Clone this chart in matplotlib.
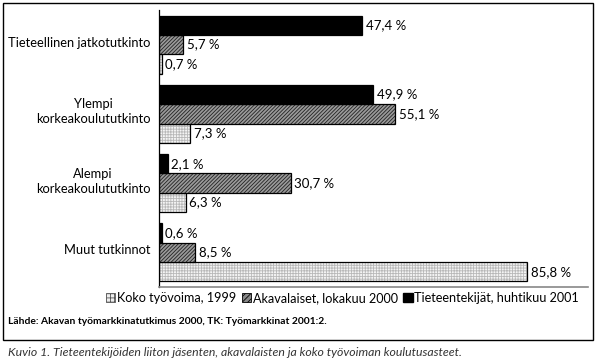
import matplotlib.pyplot as plt
from matplotlib.patches import Patch, Rectangle

# degrees (y order top to bottom) and shares in %
categories = ['Tieteellinen jatkotutkinto', 'Ylempi\nkorkeakoulututkinto',
              'Alempi\nkorkeakoulututkinto', 'Muut tutkinnot']
koko = [0.7, 7.3, 6.3, 85.8]
akava = [5.7, 55.1, 30.7, 8.5]
tiet = [47.4, 49.9, 2.1, 0.6]
series_names = ['Koko työvoima, 1999', 'Akavalaiset, lokakuu 2000',
                'Tieteentekijät, huhtikuu 2001']

plt.rcParams['font.family'] = ['Lato', 'DejaVu Sans']
plt.rcParams['hatch.linewidth'] = 0.6

fig = plt.figure(figsize=(6, 3.61), dpi=100)
ax = fig.add_axes([159/600, 1-287/361, 429/600, 277/361])

h = 0.28
y = range(len(categories))
styles = [
    (koko, h, '#f4f4f4', '#b8b8b8', '++++++'),
    (akava, 0, '#9a9a9a', '#222222', '/////////'),
    (tiet, -h, 'black', 'black', None),
]
for vals, off, fc, hc, hatch in styles:
    pos = [c + off for c in y]
    ax.barh(pos, vals, height=h, color=fc, edgecolor=hc, hatch=hatch, lw=0)
    ax.barh(pos, vals, height=h, fill=False, edgecolor='black', lw=0.9)
    for p, v in zip(pos, vals):
        ax.text(v + 0.8, p, f'{v:.1f} %'.replace('.', ','), va='center',
                ha='left', fontsize=9.5)

ax.set_xlim(0, 100)
ax.set_ylim(3.5, -0.5)
ax.set_xticks([])
ax.set_yticks([])
for c, lab in zip(y, categories):
    ax.text(-2, c - 0.03, lab, ha='right', va='center', fontsize=9.3,
            multialignment='center', linespacing=1.3)
ax.spines['top'].set_visible(False)
ax.spines['right'].set_visible(False)
ax.spines['left'].set_linewidth(0.9)
ax.spines['bottom'].set_color('#888888')
ax.spines['bottom'].set_linewidth(1.2)

handles = [Patch(facecolor='#eeeeee', edgecolor='#555555', hatch='++++', lw=0.6),
           Patch(facecolor='#888888', edgecolor='black', hatch='//////', lw=0.6),
           Patch(facecolor='black', edgecolor='black')]
fig.legend(handles, series_names, loc='center', bbox_to_anchor=(0.571, 1-298/361),
           ncol=3, frameon=False, fontsize=9.1, handlelength=0.75,
           handleheight=0.75, handletextpad=0.15, columnspacing=0.4)

fig.text(8/600, 1-322/361, 'Lähde: Akavan työmarkkinatutkimus 2000, TK: Työmarkkinat 2001:2.',
         fontsize=7.4, fontweight='bold', va='center', ha='left')
fig.patches.append(Rectangle((3/600, 1-340/361), 590/600, 337/361, fill=False,
                             lw=1, edgecolor='black', transform=fig.transFigure))
fig.text(8/600, 1-352/361,
         'Kuvio 1. Tieteentekijöiden liiton jäsenten, akavalaisten ja koko työvoiman koulutusasteet.',
         fontsize=8.8, style='italic', color='#333333', va='center', ha='left')

fig.savefig('out.png', dpi=100)
